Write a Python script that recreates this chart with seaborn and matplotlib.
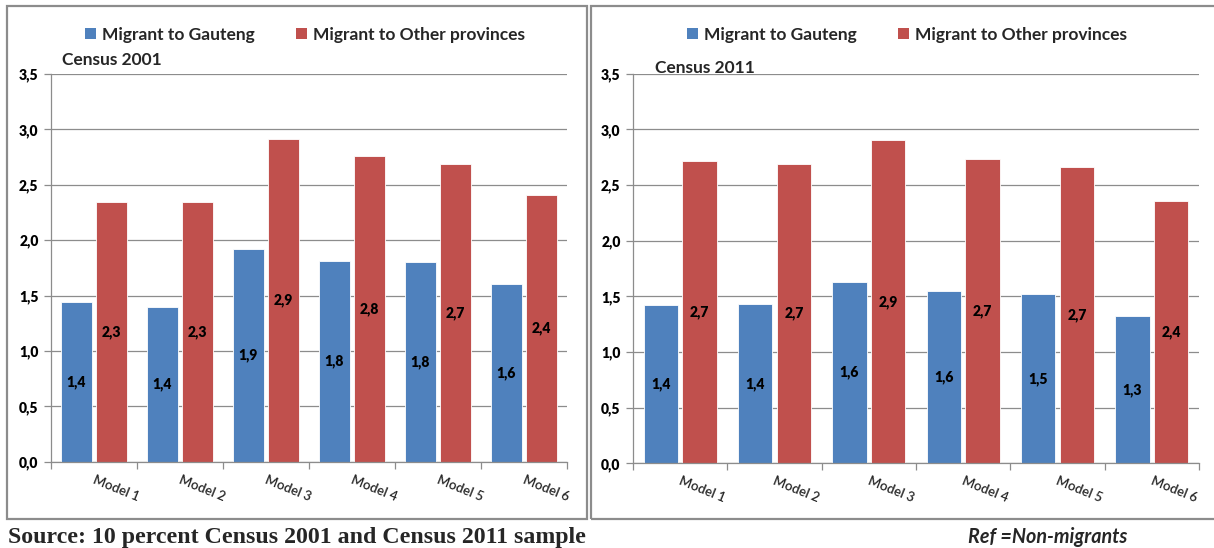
import numpy as np
import pandas as pd
import matplotlib
matplotlib.use("Agg")
import matplotlib.pyplot as plt
import matplotlib.transforms as mtransforms
from matplotlib.patches import Patch, Rectangle
import seaborn as sns

# ---------------- data ----------------
models = ["Model 1", "Model 2", "Model 3", "Model 4", "Model 5", "Model 6"]
series_names = ["Migrant to Gauteng", "Migrant to Other provinces"]
gauteng_2001 = [1.44, 1.40, 1.92, 1.81, 1.80, 1.60]
other_2001 = [2.34, 2.34, 2.91, 2.76, 2.69, 2.41]
gauteng_2011 = [1.42, 1.43, 1.63, 1.55, 1.52, 1.32]
other_2011 = [2.72, 2.69, 2.90, 2.73, 2.66, 2.36]
panel_titles = ["Census 2001", "Census 2011"]
yticks = [0.0, 0.5, 1.0, 1.5, 2.0, 2.5, 3.0, 3.5]
source_text = "Source: 10 percent Census 2001 and Census 2011 sample"
ref_text = "Ref =Non-migrants"

BLUE = "#4F81BD"
RED = "#C0504D"
GRID = "#8c8c8c"

def make_df(g, o):
    return pd.DataFrame({
        "model": models * 2,
        "value": list(g) + list(o),
        "series": [series_names[0]] * len(models) + [series_names[1]] * len(models),
    })

sns.set_theme(style="white")
plt.rcParams["font.family"] = ["Lato", "DejaVu Sans"]

W, H = 1214, 548
fig = plt.figure(figsize=(W / 100, H / 100), dpi=100)

def fx(px):
    return px / W

def fy(py):
    return 1 - py / H

# axes rectangles (pixel based)
axes_px = [
    (51, 567, 73.9, 461.7),
    (633, 1199, 73.7, 463.3),
]
datasets = [(gauteng_2001, other_2001), (gauteng_2011, other_2011)]
legend_centers = [(305, 35), (907, 35)]
title_pos = [(62, 60), (655, 68)]

for i, ((x0, x1, ytop, ybot), (g, o)) in enumerate(zip(axes_px, datasets)):
    ax = fig.add_axes([fx(x0), fy(ybot), (x1 - x0) / W, (ybot - ytop) / H])
    df = make_df(g, o)
    sns.barplot(data=df, x="model", y="value", hue="series", order=models,
                hue_order=series_names, palette=[BLUE, RED], width=0.82,
                gap=0.12, ax=ax, legend=False, errorbar=None,
                edgecolor="white", linewidth=0.6, saturation=1)
    ax.set_xlim(-0.5, len(models) - 0.5)
    ax.set_ylim(0, 3.5)
    ax.set_xlabel("")
    ax.set_ylabel("")

    # grid
    ax.set_yticks(yticks)
    ax.set_yticklabels([f"{t:.1f}".replace(".", ",") for t in yticks],
                       fontsize=10, fontweight="heavy")
    ax.yaxis.grid(True, color=GRID, linewidth=0.9)
    ax.set_axisbelow(True)
    ax.tick_params(axis="y", which="major", length=5, width=0.9, color=GRID,
                   pad=4, left=True, labelcolor="black")

    # x ticks at category boundaries; labels at category centers
    ax.set_xticks(np.arange(-0.5, len(models), 1.0))
    ax.set_xticklabels([])
    ax.set_xticks(np.arange(len(models)), minor=True)
    ax.set_xticklabels(models, minor=True, rotation=-22, ha="center",
                       va="center", rotation_mode="anchor", fontsize=9.5,
                       fontweight="semibold")
    ax.tick_params(axis="x", which="major", length=5, width=0.9, color=GRID,
                   bottom=True)
    ax.tick_params(axis="x", which="minor", length=0, pad=19)
    off = mtransforms.ScaledTranslation(0.22, 0, fig.dpi_scale_trans)
    for lab in ax.get_xticklabels(minor=True):
        lab.set_transform(lab.get_transform() + off)

    for side in ["top", "right"]:
        ax.spines[side].set_visible(False)
    for side in ["left", "bottom"]:
        ax.spines[side].set_color(GRID)
        ax.spines[side].set_linewidth(0.9)

    # bar labels
    for cont in ax.containers:
        vals = [b.get_height() for b in cont]
        ax.bar_label(cont, labels=[f"{v:.1f}".replace(".", ",") for v in vals],
                     label_type="center", fontsize=10, fontweight="heavy",
                     color="black")

    # legend
    handles = [Patch(facecolor=BLUE, edgecolor="none"),
               Patch(facecolor=RED, edgecolor="none")]
    cx, cy = legend_centers[i]
    ax.legend(handles, series_names, loc="center",
              bbox_to_anchor=(fx(cx), fy(cy)), bbox_transform=fig.transFigure,
              ncol=2, frameon=False, handlelength=0.6, handleheight=0.6,
              handletextpad=0.35, columnspacing=2.4,
              prop={"family": "Lato", "weight": "bold", "size": 12.5})

    tx, ty = title_pos[i]
    fig.text(fx(tx), fy(ty), panel_titles[i], ha="left", va="center",
             fontsize=12.5, fontweight="bold", family="Lato")

# panel borders
fig.add_artist(Rectangle((fx(7), fy(519)), fx(587 - 7), (519 - 5.5) / H,
                         transform=fig.transFigure, fill=False,
                         edgecolor=GRID, linewidth=1.6))
fig.add_artist(Rectangle((fx(591), fy(519)), fx(1230 - 591), (519 - 5.5) / H,
                         transform=fig.transFigure, fill=False,
                         edgecolor=GRID, linewidth=1.6, clip_on=False))

fig.text(fx(8), fy(537), source_text, ha="left", va="center",
         family="Liberation Serif", fontweight="bold", fontsize=17.2)
fig.text(fx(968), fy(537), ref_text, ha="left", va="center",
         family="Lato", fontweight="bold", style="italic", fontsize=14.2)

fig.savefig("out.png", dpi=100)
